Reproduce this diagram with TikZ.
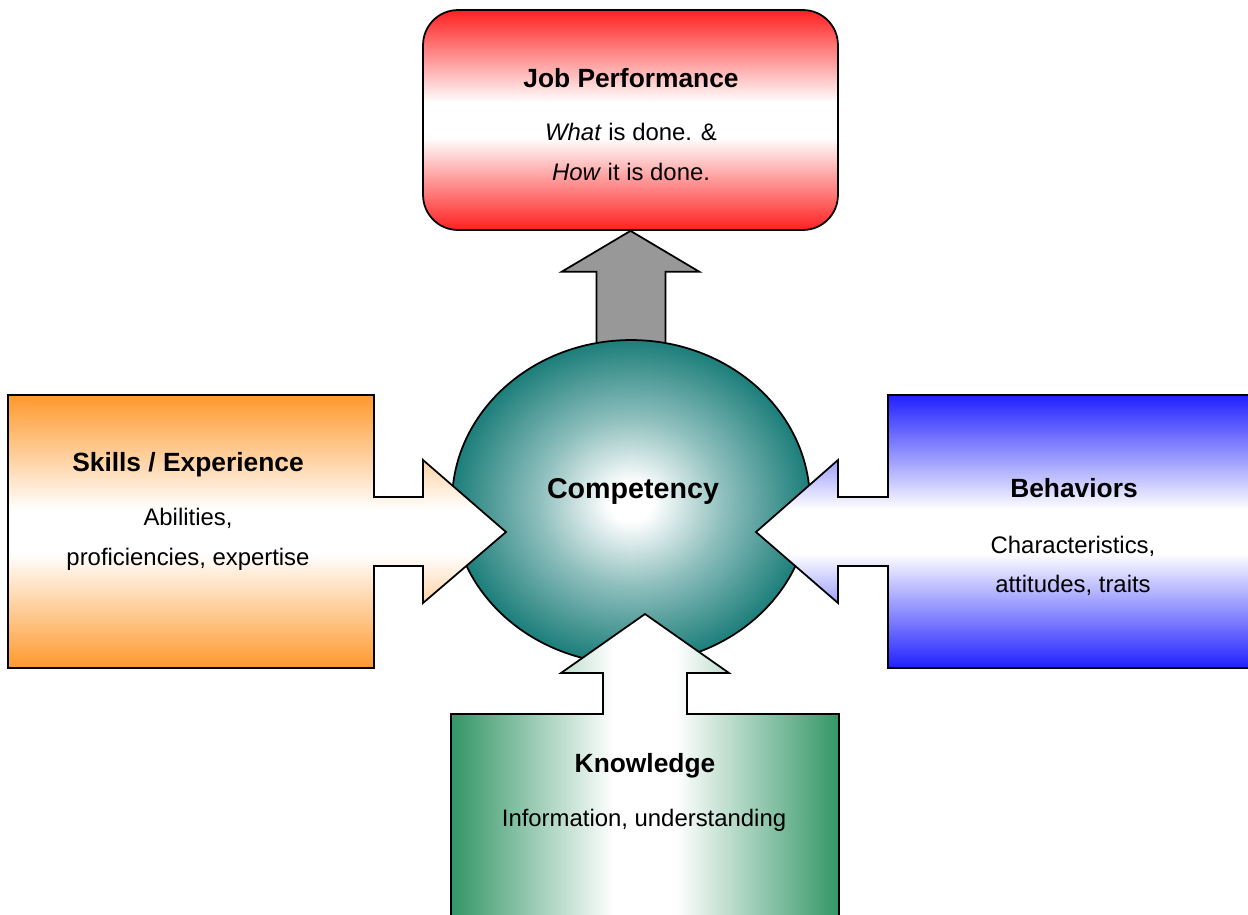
\documentclass[tikz,border=0pt]{standalone}
\usepackage{fontspec}
\setmainfont{Liberation Sans}
\usetikzlibrary{positioning}
\usetikzlibrary{shapes.geometric}
\definecolor{jobred}{RGB}{255,32,32}
\definecolor{skillorange}{RGB}{255,153,45}
\definecolor{behblue}{RGB}{32,32,255}
\definecolor{knowgreen}{RGB}{51,150,102}
\definecolor{compteal}{RGB}{28,126,122}
\definecolor{pushgray}{RGB}{152,152,152}
\pgfdeclareverticalshading{redband}{100bp}{color(0bp)=(jobred); color(25bp)=(jobred); color(46bp)=(white); color(54bp)=(white); color(75bp)=(jobred); color(100bp)=(jobred)}
\pgfdeclareverticalshading{orangeband}{100bp}{color(0bp)=(skillorange); color(25bp)=(skillorange); color(46bp)=(white); color(54bp)=(white); color(75bp)=(skillorange); color(100bp)=(skillorange)}
\pgfdeclareverticalshading{blueband}{100bp}{color(0bp)=(behblue); color(25bp)=(behblue); color(46bp)=(white); color(54bp)=(white); color(75bp)=(behblue); color(100bp)=(behblue)}
\pgfdeclarehorizontalshading{greenband}{100bp}{color(0bp)=(knowgreen); color(25bp)=(knowgreen); color(46bp)=(white); color(54bp)=(white); color(75bp)=(knowgreen); color(100bp)=(knowgreen)}
\pgfdeclareradialshading{compball}{\pgfpoint{0bp}{0bp}}{color(0bp)=(white); color(3bp)=(white); color(13bp)=(compteal!50); color(25bp)=(compteal); color(50bp)=(compteal)}
\tikzset{outline/.style = {draw=black, line width=1pt, line join=miter}}
\tikzset{jobbox/.style = {outline, shade, shading=redband, rounded corners=0.7cm,
                          minimum width=8.3cm, minimum height=4.4cm, inner sep=0}}
\tikzset{ball/.style = {outline, shade, shading=compball, ellipse,
                        minimum width=7.16cm, minimum height=6.48cm, inner sep=0}}
\tikzset{title/.style = {font=\bfseries\fontsize{15}{18}\selectfont, anchor=base}}
\tikzset{body/.style = {font=\fontsize{13.6}{16}\selectfont, anchor=base}}

\begin{document}
\begin{tikzpicture}[x=0.02cm, y=-0.02cm]
    \useasboundingbox (0, 0) rectangle (1248, 914);
    \clip (0, 0) rectangle (1248, 914);

    % outcome box and the push up to it
    \node [jobbox] (job) at (630.5, 120) {};
    \draw [outline, fill=pushgray] (job.south) -- ++(69, 41) -- ++(-34, 0) -- ++(0, 110)
        -- ++(-69, 0) -- ++(0, -110) -- ++(-35, 0) -- cycle;

    \node [ball] (comp) at (631, 502) {};

    % the three inputs
    \draw [outline, shade, shading=orangeband] (8, 395) -- (374, 395) -- (374, 497) -- (423, 497)
        -- (423, 460) -- (506, 532) -- (423, 603) -- (423, 566) -- (374, 566) -- (374, 668)
        -- (8, 668) -- cycle;
    \draw [outline, shade, shading=blueband] (1262, 395) -- (888, 395) -- (888, 497) -- (838, 497)
        -- (838, 460) -- (756, 532) -- (838, 603) -- (838, 566) -- (888, 566) -- (888, 668)
        -- (1262, 668) -- cycle;
    \draw [outline, shade, shading=greenband] (451, 930) -- (451, 714) -- (603, 714) -- (603, 673)
        -- (561, 673) -- (645, 614) -- (729, 673) -- (687, 673) -- (687, 714) -- (839, 714)
        -- (839, 930) -- cycle;

    \node [title] (jobT) at (631, 87) {Job Performance};
    \node [body] (jobA) at (631, 140) {\textit{What} is done. \&};
    \node [body] (jobB) at (631, 180) {\textit{How} it is done.};

    \node [title, font=\bfseries\fontsize{16.3}{19}\selectfont] (compT) at (633, 498) {Competency};

    \node [title] (skillT) at (188, 471) {Skills / Experience};
    \node [body] (skillA) at (188, 525) {Abilities,};
    \node [body] (skillB) at (188, 565) {proficiencies, expertise};

    \node [title] (behT) at (1074, 497) {Behaviors};
    \node [body] (behA) at (1073, 553) {Characteristics,};
    \node [body] (behB) at (1073, 592) {attitudes, traits};

    \node [title] (knowT) at (645, 772) {Knowledge};
    \node [body] (knowA) at (644, 826) {Information, understanding};
  \end{tikzpicture}
\end{document}
